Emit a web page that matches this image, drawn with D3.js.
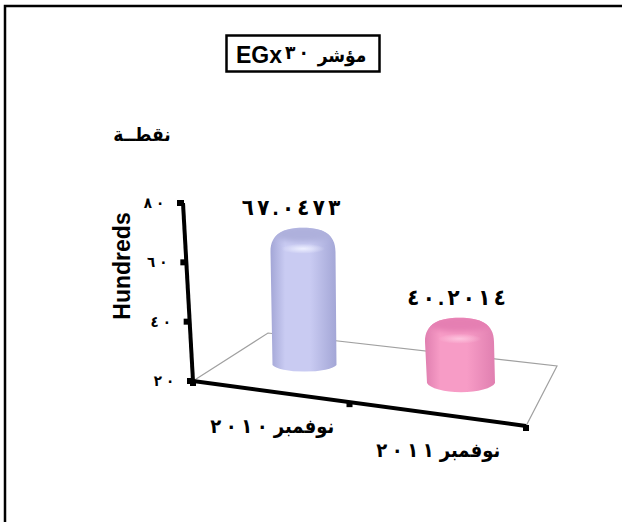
<!DOCTYPE html>
<html>
<head>
<meta charset="utf-8">
<script src="https://cdn.jsdelivr.net/npm/d3@7"></script>
<style>
  html, body { margin: 0; padding: 0; background: #fff; overflow: hidden; }
  svg { display: block; }
  text { font-family: "Liberation Sans", "DejaVu Sans Condensed", "DejaVu Sans", sans-serif; font-weight: bold; fill: #000; }
</style>
</head>
<body>
<svg id="chart" width="622" height="522"></svg>
<script>
const categories = ["نوفمبر ٢٠١٠", "نوفمبر ٢٠١١"];
const values = [67.0473, 40.2014];
const value_labels = ["٦٧.٠٤٧٣", "٤٠.٢٠١٤"];
const y_ticks = [20, 40, 60, 80];
const y_tick_labels = ["٢٠", "٤٠", "٦٠", "٨٠"];
const title_parts = ["EGx", "٣٠", "مؤشر"];
const unit = "نقطــة";
const axis_unit = "Hundreds";
const bar_edges = ["#a3a6d6", "#e07fb0"];
const bar_centers = ["#c9cbf2", "#f79cc6"];
const bar_tops = ["#aeb0dc", "#e57fb2"];
const bar_highlights = ["#eef0ff", "#fdc4de"];

const svg = d3.select('#chart');
const defs = svg.append('defs');

// chrome ignores letter-spacing on arabic digits, so space them per character
const spaced = (s, gap) => Array.from(s).map((c, i) => i ? gap : 0).join(' ');

// frame runs off the right and bottom of the picture
svg.append('rect')
  .attr('x', 5).attr('y', 6)
  .attr('width', 640).attr('height', 540)
  .attr('fill', "#fff").attr('stroke', "#000").attr('stroke-width', 2.5);

// title box
svg.append('rect')
  .attr('x', 226.5).attr('y', 35.5)
  .attr('width', 153).attr('height', 36)
  .attr('fill', "#fff").attr('stroke', "#000").attr('stroke-width', 2.5);

svg.append('text')
  .attr('x', 236).attr('y', 63)
  .style('font-size', "23px")
  .text(title_parts[0]);

svg.append('text')
  .attr('x', 297).attr('y', 59)
  .attr('dx', spaced(title_parts[1], 3))
  .attr('text-anchor', "middle")
  .style('font-size', "19px")
  .text(title_parts[1]);

svg.append('text')
  .attr('x', 342).attr('y', 62)
  .attr('text-anchor', "middle")
  .style('font-size', "19px")
  .text(title_parts[2]);

svg.append('text')
  .attr('x', 142).attr('y', 141)
  .attr('text-anchor', "middle")
  .style('font-size', "19px")
  .text(unit);

svg.append('text')
  .attr('transform', "translate(130,266) rotate(-90)")
  .attr('text-anchor', "middle")
  .style('font-size', "23px")
  .text(axis_unit);

// the slanted value axis
const y = d3.scaleLinear().domain([20, 80]).range([381, 203]);
const y_x = d3.scaleLinear().domain([20, 80]).range([193, 183]);

// floor, drawn in perspective
const floor = [[193, 381], [268, 333], [557, 366], [526, 426]];
svg.append('path')
  .attr('d', d3.line()(floor) + 'Z')
  .attr('fill', "#fff")
  .attr('stroke', "#a0a0a0")
  .attr('stroke-width', 1.2);

// bars
const bar_x = d3.scalePoint().domain(categories).range([303, 459.5]);
const bar_base = d3.scalePoint().domain(categories).range([365, 383]);
const bar_rx = d3.scalePoint().domain(categories).range([32.5, 34.5]);
const bar_ry = d3.scalePoint().domain(categories).range([8, 11]);
const bar_h = d3.scaleLinear().domain([20, 80]).range([0, 161]);

const top_of = (d, i) => bar_base(d) - bar_h(values[i]) - 11;

const bar_path = (d, i) => {
  const x = bar_x(d), b = bar_base(d), rx = bar_rx(d), ry = bar_ry(d);
  const top = top_of(d, i);
  const shoulder = top + 24;
  return `M${x - rx + 2},${b}` +
    `A${rx},${ry} 0 0 0 ${x + rx + 1},${b}` +
    `L${x + rx},${shoulder}` +
    `C${x + rx},${top + 6} ${x + rx * 0.6},${top} ${x},${top}` +
    `C${x - rx * 0.6},${top} ${x - rx},${top + 6} ${x - rx},${shoulder}Z`;
};

defs.append('filter').attr('id', "soft")
  .attr('x', "-20%").attr('y', "-50%").attr('width', "140%").attr('height', "200%")
  .append('feGaussianBlur').attr('stdDeviation', 2.5);

categories.forEach((c, i) => {
  const g = defs.append('linearGradient').attr('id', `side${i}`);
  g.append('stop').attr('offset', 0).attr('stop-color', bar_edges[i]);
  g.append('stop').attr('offset', 0.22).attr('stop-color', bar_centers[i]);
  g.append('stop').attr('offset', 0.6).attr('stop-color', bar_centers[i]);
  g.append('stop').attr('offset', 1).attr('stop-color', bar_edges[i]);

  const h = defs.append('radialGradient').attr('id', `shine${i}`);
  h.append('stop').attr('offset', 0).attr('stop-color', bar_highlights[i]);
  h.append('stop').attr('offset', 1).attr('stop-color', bar_highlights[i]).attr('stop-opacity', 0);

  defs.append('clipPath').attr('id', `clip${i}`)
    .append('path').attr('d', bar_path(c, i));
});

const bars = svg.selectAll('g.bar')
  .data(categories)
  .enter().append('g')
  .attr('class', "bar");

bars.append('path')
  .attr('fill', (d, i) => `url(#side${i})`)
  .attr('d', bar_path);

// darker top face and the shine under it, softened and kept inside the bar
const shade = bars.append('g')
  .attr('clip-path', (d, i) => `url(#clip${i})`);

shade.append('ellipse')
  .attr('fill', (d, i) => bar_tops[i])
  .attr('filter', "url(#soft)")
  .attr('cx', d => bar_x(d))
  .attr('cy', (d, i) => top_of(d, i) + 6)
  .attr('rx', d => bar_rx(d) - 2)
  .attr('ry', 8);

shade.append('ellipse')
  .attr('fill', (d, i) => `url(#shine${i})`)
  .attr('cx', d => bar_x(d))
  .attr('cy', (d, i) => top_of(d, i) + 21)
  .attr('rx', 22)
  .attr('ry', 5);

// value labels
const label_x = d3.scalePoint().domain(categories).range([291, 456.5]);

bars.append('text')
  .attr('x', d => label_x(d))
  .attr('y', (d, i) => top_of(d, i) - 13)
  .attr('dx', (d, i) => spaced(value_labels[i], 3.3))
  .attr('text-anchor', "middle")
  .style('font-size', "22px")
  .text((d, i) => value_labels[i]);

// axis lines
svg.append('line')
  .attr('x1', y_x(20)).attr('y1', y(20))
  .attr('x2', y_x(80)).attr('y2', y(80))
  .attr('stroke', "#000").attr('stroke-width', 4);

svg.append('line')
  .attr('x1', floor[0][0]).attr('y1', floor[0][1])
  .attr('x2', floor[3][0]).attr('y2', floor[3][1])
  .attr('stroke', "#000").attr('stroke-width', 4);

// y ticks
svg.selectAll('rect.ytick')
  .data(y_ticks)
  .enter().append('rect')
  .attr('class', "ytick")
  .attr('x', d => y_x(d) - 6)
  .attr('y', d => y(d) - 3)
  .attr('width', 7)
  .attr('height', 6);

svg.selectAll('text.ylabel')
  .data(y_ticks)
  .enter().append('text')
  .attr('class', "ylabel")
  .attr('x', d => y_x(d) - 29)
  .attr('y', d => y(d) + 5)
  .attr('dx', (d, i) => spaced(y_tick_labels[i], 4))
  .attr('text-anchor', "middle")
  .style('font-size', "15px")
  .text((d, i) => y_tick_labels[i]);

// x ticks, at the ends and middle of the category axis
const axis_x = d3.scaleLinear().domain([0, 1]).range([floor[0][0], floor[3][0]]);
const axis_y = d3.scaleLinear().domain([0, 1]).range([floor[0][1], floor[3][1]]);

svg.selectAll('rect.xtick')
  .data([0, 0.47, 1])
  .enter().append('rect')
  .attr('class', "xtick")
  .attr('x', d => axis_x(d) - 3)
  .attr('y', d => axis_y(d) - 1)
  .attr('width', 6)
  .attr('height', 6);

// category labels: month word on the right, spaced year on the left
const month_x = d3.scalePoint().domain(categories).range([304, 470]);
const year_x = d3.scalePoint().domain(categories).range([239, 405]);
const cat_y = d3.scalePoint().domain(categories).range([433, 457]);

const xlabels = svg.selectAll('g.xlabel')
  .data(categories)
  .enter().append('g')
  .attr('class', "xlabel");

xlabels.append('text')
  .attr('x', d => month_x(d))
  .attr('y', d => cat_y(d))
  .attr('text-anchor', "middle")
  .style('font-size', "20px")
  .text(d => d.split(" ")[0]);

xlabels.append('text')
  .attr('x', d => year_x(d))
  .attr('y', d => cat_y(d))
  .attr('dx', d => spaced(d.split(" ")[1], 4.5))
  .attr('text-anchor', "middle")
  .style('font-size', "20px")
  .text(d => d.split(" ")[1]);
</script>
</body>
</html>
